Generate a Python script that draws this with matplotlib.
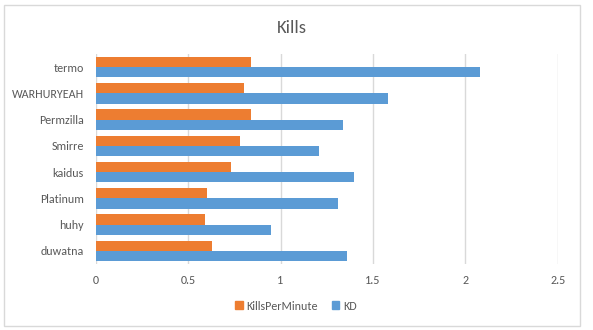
import matplotlib
matplotlib.use("Agg")
import matplotlib.pyplot as plt
from matplotlib.patches import Rectangle, Patch
import numpy as np

categories = ["duwatna", "huhy", "Platinum", "kaidus", "Smirre", "Permzilla", "WARHURYEAH", "termo"]
kills_per_minute = [0.63, 0.59, 0.60, 0.73, 0.78, 0.84, 0.80, 0.84]
kd = [1.36, 0.95, 1.31, 1.40, 1.21, 1.34, 1.58, 2.08]
x_ticks = [0, 0.5, 1, 1.5, 2, 2.5]
x_tick_labels = ["0", "0.5", "1", "1.5", "2", "2.5"]

ORANGE = "#ED7D31"
BLUE = "#5B9BD5"
GRID = "#D9D9D9"
TEXT = "#595959"

plt.rcParams['font.family'] = ['Carlito', 'Lato', 'DejaVu Sans']
FS = 8.64

fig = plt.figure(figsize=(5.93, 3.30), dpi=100)
ax = fig.add_axes([95.7/593, 1-264/330, (557.7-95.7)/593, (264-54)/330])

y = np.arange(len(categories))
h = 0.393
ax.barh(y + h/2, kills_per_minute, height=h, color=ORANGE, label="KillsPerMinute", zorder=3)
ax.barh(y - h/2, kd, height=h, color=BLUE, label="KD", zorder=3)

ax.set_ylim(-0.5, len(categories) - 0.5)
ax.set_xlim(0, 2.5)
ax.set_yticks(y)
ax.set_yticklabels(categories, fontsize=FS, color=TEXT)
ax.set_xticks(x_ticks)
ax.set_xticklabels(x_tick_labels, fontsize=FS, color=TEXT)
ax.tick_params(axis='both', length=0)
ax.tick_params(axis='y', pad=8.5)
ax.tick_params(axis='x', pad=8)
ax.grid(axis='x', color=GRID, linewidth=1, zorder=0)
for s in ax.spines.values():
    s.set_visible(False)

fig.text(292/593, 1-28/330, "Kills", ha='center', va='center', fontsize=13.4, color=TEXT)

handles = [Patch(color=ORANGE, label="KillsPerMinute"), Patch(color=BLUE, label="KD")]
fig.legend(handles=handles, loc='center', bbox_to_anchor=(296/593, 1-306/330), ncol=2,
           frameon=False, fontsize=FS, labelcolor=TEXT, handlelength=0.6, handleheight=0.6,
           handletextpad=0.3, columnspacing=1.2)

fig.patches.append(Rectangle((4/593, 1-326/330), (580-4)/593, (326-5)/330, transform=fig.transFigure,
                             fill=False, edgecolor=GRID, linewidth=1))

fig.savefig("out.png", dpi=100)
